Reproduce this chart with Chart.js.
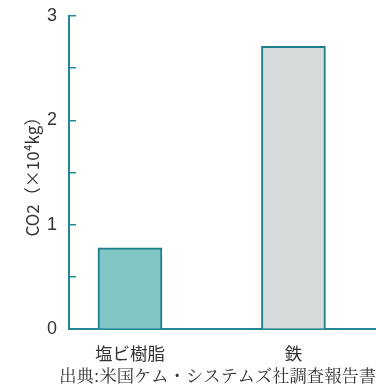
<!DOCTYPE html>
<html>
<head>
<meta charset="utf-8">
<script src="https://cdn.jsdelivr.net/npm/chart.js@4/dist/chart.umd.min.js"></script>
<style>
  html, body { margin: 0; padding: 0; background: #fff; overflow: hidden; }
  #wrap { width: 376px; height: 387px; position: relative; }
</style>
</head>
<body>
<div id="wrap"><canvas id="co2Chart"></canvas></div>
<script>
// カテゴリと値 (×10^4 kg)
const categories = ['塩ビ樹脂', '鉄'];
const co2Values = [0.78, 2.71];
const barFills = ['#82c7c5', '#d5dbda'];
const yTickLabels = [0, 1, 2, 3];

const teal = '#248892';
const textColor = '#333';
const numFont = '"Liberation Sans Narrow", "Liberation Sans", sans-serif';
const jpFont = '"Noto Sans CJK JP", sans-serif';

const barData = {
  datasets: [{
    data: categories.map((c, i) => ({ x: i + 1, y: co2Values[i] })),
    backgroundColor: barFills,
    borderColor: '#1d7f89',
    borderWidth: 2,
    barThickness: 64,
  }]
};

const barConfig = {
  type: 'bar',
  data: barData,
  options: {
    responsive: true,
    maintainAspectRatio: false,
    animation: false,
    layout: { padding: { top: 16, left: 0, right: 0, bottom: 0 } },
    plugins: {
      legend: { display: false },
      tooltip: { enabled: false },
      title: {
        display: true,
        position: 'bottom',
        align: 'end',
        text: '出典:米国ケム・システムズ社調査報告書',
        color: textColor,
        font: { family: '"Noto Serif CJK JP", "Noto Sans CJK JP", serif', size: 17.3, weight: 'normal' },
        padding: { top: 0, bottom: 1 }
      }
    },
    scales: {
      x: {
        type: 'linear',
        offset: false,
        bounds: 'data',
        min: 0.627,
        max: 2.505,
        afterBuildTicks: s => { s.ticks = categories.map((c, i) => ({ value: i + 1 })); },
        afterFit: s => { s.height = 36; },
        grid: { display: false, offset: false },
        border: { display: true, color: teal, width: 2 },
        ticks: {
          autoSkip: false,
          maxRotation: 0,
          padding: 6,
          color: textColor,
          font: { family: jpFont, size: 17.5 },
          callback: v => categories[v - 1] || ''
        }
      },
      y: {
        min: 0,
        max: 3,
        afterFit: s => { s.width = 69; s.paddingTop = 0; s.paddingBottom = 0; },
        grid: {
          drawOnChartArea: false,
          drawTicks: true,
          tickLength: -7,
          color: teal,
          lineWidth: 1.5
        },
        border: { display: true, color: teal, width: 2 },
        ticks: {
          stepSize: 0.5,
          padding: 19,
          color: textColor,
          font: { family: numFont, size: 18 },
          callback: v => yTickLabels.includes(v) ? v : ''
        },
        title: {
          display: true,
          text: 'CO2（×10⁴kg）',
          color: textColor,
          font: { family: jpFont, size: 17 },
          padding: { top: 22, bottom: 0 }
        }
      }
    }
  }
};

const barChart = new Chart(document.getElementById('co2Chart'), barConfig);
</script>
</body>
</html>
